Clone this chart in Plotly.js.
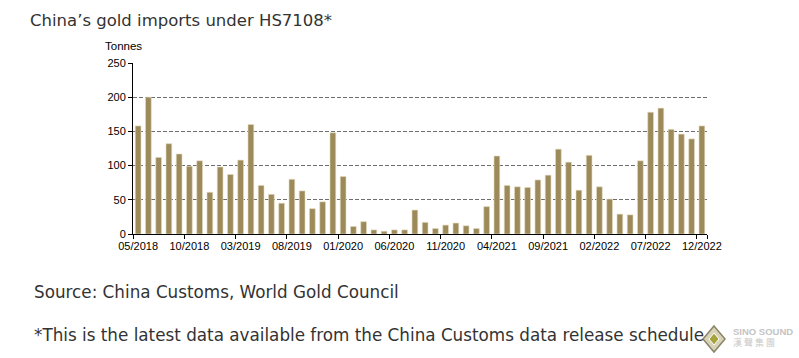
<!DOCTYPE html>
<html>
<head>
<meta charset="utf-8">
<script src="https://cdn.plot.ly/plotly-3.0.1.min.js"></script>
<style>
html,body{margin:0;padding:0;background:#fff;}
#chart{width:799px;height:358px;}
</style>
</head>
<body>
<div id="chart"></div>
<script>
var months = [
  "05/2018","06/2018","07/2018","08/2018","09/2018","10/2018","11/2018","12/2018",
  "01/2019","02/2019","03/2019","04/2019","05/2019","06/2019","07/2019","08/2019","09/2019","10/2019","11/2019","12/2019",
  "01/2020","02/2020","03/2020","04/2020","05/2020","06/2020","07/2020","08/2020","09/2020","10/2020","11/2020","12/2020",
  "01/2021","02/2021","03/2021","04/2021","05/2021","06/2021","07/2021","08/2021","09/2021","10/2021","11/2021","12/2021",
  "01/2022","02/2022","03/2022","04/2022","05/2022","06/2022","07/2022","08/2022","09/2022","10/2022","11/2022","12/2022"
];
var tonnes = [
  158,200,112,132,117,99,107,61,
  98,87,108,160,71,58,45,80,63,37,47,148,
  84,11,18,6,4,6,6,35,17,8,13,16,
  12,8,40,114,71,69,68,79,86,124,105,64,
  115,69,51,29,28,107,178,184,153,146,139,158
];
var tickLabels = ["05/2018","10/2018","03/2019","08/2019","01/2020","06/2020","11/2020","04/2021","09/2021","02/2022","07/2022","12/2022"];
var yTicks = [0,50,100,150,200,250];

var plotL = 133, plotR = 707, plotT = 63, plotB = 234;
var pw = plotR - plotL, ph = plotB - plotT;
function px(x){ return (x - plotL) / pw; }
function py(y){ return (plotB - y) / ph; }

var trace = {
  type: 'bar',
  x: months,
  y: tonnes,
  marker: {color: '#9c8a5b', line: {color: '#e4dac0', width: 0.6}},
  hoverinfo: 'x+y'
};

var textFont = 'DejaVu Sans, "Noto Sans", sans-serif';

var layout = {
  width: 799, height: 358,
  margin: {l: plotL, r: 799 - plotR, t: plotT, b: 358 - plotB},
  paper_bgcolor: '#ffffff', plot_bgcolor: '#ffffff',
  bargap: 0.44,
  showlegend: false,
  title: {
    text: 'China\u2019s gold imports under HS7108*',
    xref: 'container', yref: 'container',
    x: 30/799, xanchor: 'left',
    y: 1 - 20/358, yanchor: 'middle',
    font: {family: textFont, size: 16.5, color: '#333333'}
  },
  xaxis: {
    type: 'category',
    categoryorder: 'array', categoryarray: months,
    range: [-0.5, months.length - 0.5],
    tickmode: 'array', tickvals: tickLabels, ticktext: tickLabels,
    tickson: 'boundaries',
    ticks: 'outside', ticklen: 4, tickcolor: '#000', tickwidth: 1,
    ticklabelstandoff: 2,
    showline: true, linecolor: '#000', linewidth: 1,
    showgrid: false, zeroline: false,
    tickangle: 0,
    tickfont: {family: 'Liberation Sans, Arial, sans-serif', size: 11, color: '#000'}
  },
  yaxis: {
    range: [0, 250],
    tickmode: 'array', tickvals: yTicks,
    ticks: 'outside', ticklen: 4, tickcolor: '#000',
    showline: true, linecolor: '#000', linewidth: 1,
    showgrid: true, gridcolor: '#6e6e6e', griddash: '4px,2px', gridwidth: 1,
    zeroline: false,
    tickfont: {family: 'Liberation Sans, Arial, sans-serif', size: 11, color: '#000'}
  },
  shapes: [
    {type: 'path', xref: 'paper', yref: 'paper',
     path: 'M ' + px(714) + ',' + py(326) + ' L ' + px(725) + ',' + py(339) + ' L ' + px(714) + ',' + py(352) + ' L ' + px(703) + ',' + py(339) + ' Z',
     fillcolor: '#d8d2b8', line: {color: '#8a8467', width: 1.5}},
    {type: 'path', xref: 'paper', yref: 'paper',
     path: 'M ' + px(714) + ',' + py(333) + ' L ' + px(719) + ',' + py(339) + ' L ' + px(714) + ',' + py(345) + ' L ' + px(709) + ',' + py(339) + ' Z',
     fillcolor: '#a6a23c', line: {color: '#ffffff', width: 1}}
  ],
  annotations: [
    {text: 'Tonnes', xref: 'paper', yref: 'paper', x: px(103), y: py(46),
     xanchor: 'left', yanchor: 'middle', showarrow: false,
     font: {family: 'Liberation Sans, Arial, sans-serif', size: 11.5, color: '#000'}},
    {text: 'Source: China Customs, World Gold Council', xref: 'paper', yref: 'paper',
     x: px(32), y: py(292), xanchor: 'left', yanchor: 'middle', showarrow: false,
     font: {family: textFont, size: 16.8, color: '#333333'}},
    {text: '*This is the latest data available from the China Customs data release schedule', xref: 'paper', yref: 'paper',
     x: px(32), y: py(335), xanchor: 'left', yanchor: 'middle', showarrow: false,
     font: {family: textFont, size: 16.8, color: '#333333'}},
    {text: '<b>SINO SOUND</b>', xref: 'paper', yref: 'paper',
     x: px(731), y: py(331), xanchor: 'left', yanchor: 'middle', showarrow: false,
     font: {family: 'Liberation Sans, Arial, sans-serif', size: 9.5, color: '#c4c4c4'}},
    {text: '漢 聲 集 團', xref: 'paper', yref: 'paper',
     x: px(731), y: py(342), xanchor: 'left', yanchor: 'middle', showarrow: false,
     font: {family: '"Noto Sans CJK TC", sans-serif', size: 9, color: '#c8c8c8'}}
  ]
};

Plotly.newPlot('chart', [trace], layout, {displayModeBar: false, staticPlot: true});
</script>
</body>
</html>
